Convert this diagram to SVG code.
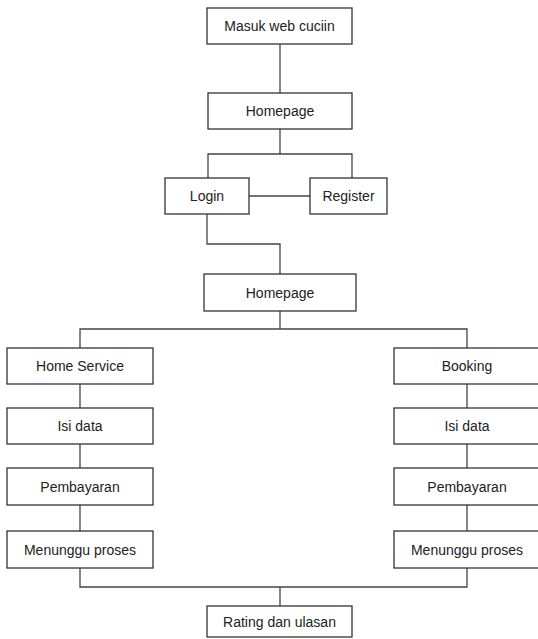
<svg xmlns="http://www.w3.org/2000/svg" width="538" height="639" viewBox="0 0 538 639">
<style>
rect{fill:#fff;stroke:#333;stroke-width:1.3}
text{font-family:"Liberation Sans",Arial,sans-serif;font-size:14px;fill:#222;text-anchor:middle;dominant-baseline:central}
#connectors path{fill:none;stroke:#444;stroke-width:1.3}
</style>
<rect x="0" y="0" width="538" height="639" style="fill:#fff;stroke:none"/>
<g id="connectors">
<path d="M280 44V93"/>
<path d="M280 129V154M208 178V154H352V178"/>
<path d="M249 196H310"/>
<path d="M207 214V244H280V274"/>
<path d="M280 311V329M80 348V329H467V348"/>
<path d="M80 384V408M80 444V468M80 505V531"/>
<path d="M467 384V408M467 444V468M467 505V531"/>
<path d="M80 568V587H467V568M280 587V606"/>
</g>
<g id="masuk"><rect x="207" y="8" width="145" height="36"/><text x="279.5" y="26">Masuk web cuciin</text></g>
<g id="homepage1"><rect x="208" y="93" width="144" height="36"/><text x="280" y="111">Homepage</text></g>
<g id="login"><rect x="165" y="178" width="84" height="36"/><text x="207" y="196">Login</text></g>
<g id="register"><rect x="310" y="178" width="77" height="36"/><text x="348.5" y="196">Register</text></g>
<g id="homepage2"><rect x="204" y="274" width="152" height="37"/><text x="280" y="292.5">Homepage</text></g>
<g id="homeservice"><rect x="7" y="348" width="146" height="36"/><text x="80" y="366">Home Service</text></g>
<g id="isidata1"><rect x="7" y="408" width="146" height="36"/><text x="80" y="426">Isi data</text></g>
<g id="pembayaran1"><rect x="7" y="468" width="146" height="37"/><text x="80" y="486.5">Pembayaran</text></g>
<g id="menunggu1"><rect x="7" y="531" width="146" height="37"/><text x="80" y="549.5">Menunggu proses</text></g>
<g id="booking"><rect x="394" y="348" width="145" height="36"/><text x="467" y="366">Booking</text></g>
<g id="isidata2"><rect x="394" y="408" width="145" height="36"/><text x="467" y="426">Isi data</text></g>
<g id="pembayaran2"><rect x="394" y="468" width="145" height="37"/><text x="467" y="486.5">Pembayaran</text></g>
<g id="menunggu2"><rect x="394" y="531" width="145" height="37"/><text x="467" y="549.5">Menunggu proses</text></g>
<g id="rating"><rect x="207" y="606" width="145" height="31"/><text x="279.5" y="621.5">Rating dan ulasan</text></g>
</svg>
